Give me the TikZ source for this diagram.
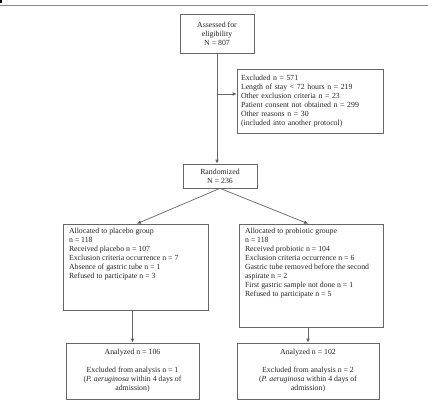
\documentclass[tikz,border=0pt]{standalone}
\usepackage{fontspec}
\setmainfont{Liberation Serif}
\usetikzlibrary{arrows.meta}
\begin{document}
\begin{tikzpicture}[x=1pt,y=-1pt,
  box/.style={draw=black!60, line width=0.7pt, inner sep=0pt, text=black!85,
    font=\fontsize{7.8}{9}\selectfont},
  conn/.style={draw=black!60, line width=0.7pt},
  arr/.style={conn, -{Latex[length=4pt,width=3.6pt,fill=black]}}]
\useasboundingbox (0,0) rectangle (433,409);
\fill[white] (0,0) rectangle (433,409);
\draw[black!45, line width=0.6pt] (0,5) -- (428,5);
\fill[black] (0,0) rectangle (2,3);
% boxes
\node[box, minimum width=74, minimum height=39, align=center] (assess) at (217,33.5)
  {Assessed for\\eligibility\\N = 807};
\node[box, minimum width=146, minimum height=64, align=left, text width=138] (excl) at (310,101)
  {Excluded n = 571\\Length of stay < 72 hours n = 219\\Other exclusion criteria n = 23\\Patient consent not obtained n = 299\\Other reasons n = 30\\(included into another protocol)};
\node[box, minimum width=74, minimum height=24, align=center] (rand) at (220,176)
  {Randomized\\N = 236};
\node[box, minimum width=145, minimum height=86] (plac) at (135.5,267)
  {\parbox[t][80pt][t]{133pt}{\vspace{1pt}Allocated to placebo group\\n = 118\\Received placebo n = 107\\Exclusion criteria occurrence n = 7\\Absence of gastric tube n = 1\\Refused to participate n = 3}};
\node[box, minimum width=144, minimum height=103] (prob) at (311,275.5)
  {\parbox[t][97pt][t]{132pt}{\vspace{1pt}Allocated to probiotic groupe\\n = 118\\Received probiotic n = 104\\Exclusion criteria occurrence n = 6\\Gastric tube removed before the second\\aspirate n = 2\\First gastric sample not done n = 1\\Refused to participate n = 5}};
\node[box, minimum width=133, minimum height=56, align=center] (an1) at (132.5,371)
  {Analyzed n = 106\\[9pt]Excluded from analysis n = 1\\(\textit{P. aeruginosa} within 4 days of\\admission)};
\node[box, minimum width=142, minimum height=56, align=center] (an2) at (308,371)
  {Analyzed n = 102\\[9pt]Excluded from analysis n = 2\\(\textit{P. aeruginosa} within 4 days of\\admission)};
% connectors
\coordinate (j) at (217,94);
\draw[arr] (assess.south) -- (assess.south |- rand.north);
\draw[arr] (j) -- (j -| excl.west);
\draw[arr] (rand.south) -- ([xshift=1.5pt]plac.north);
\draw[arr] (rand.south) -- ([xshift=-3pt]prob.north);
\draw[arr] (an1.north |- plac.south) -- (an1.north);
\draw[arr] (an2.north |- prob.south) -- (an2.north);
\end{tikzpicture}
\end{document}
